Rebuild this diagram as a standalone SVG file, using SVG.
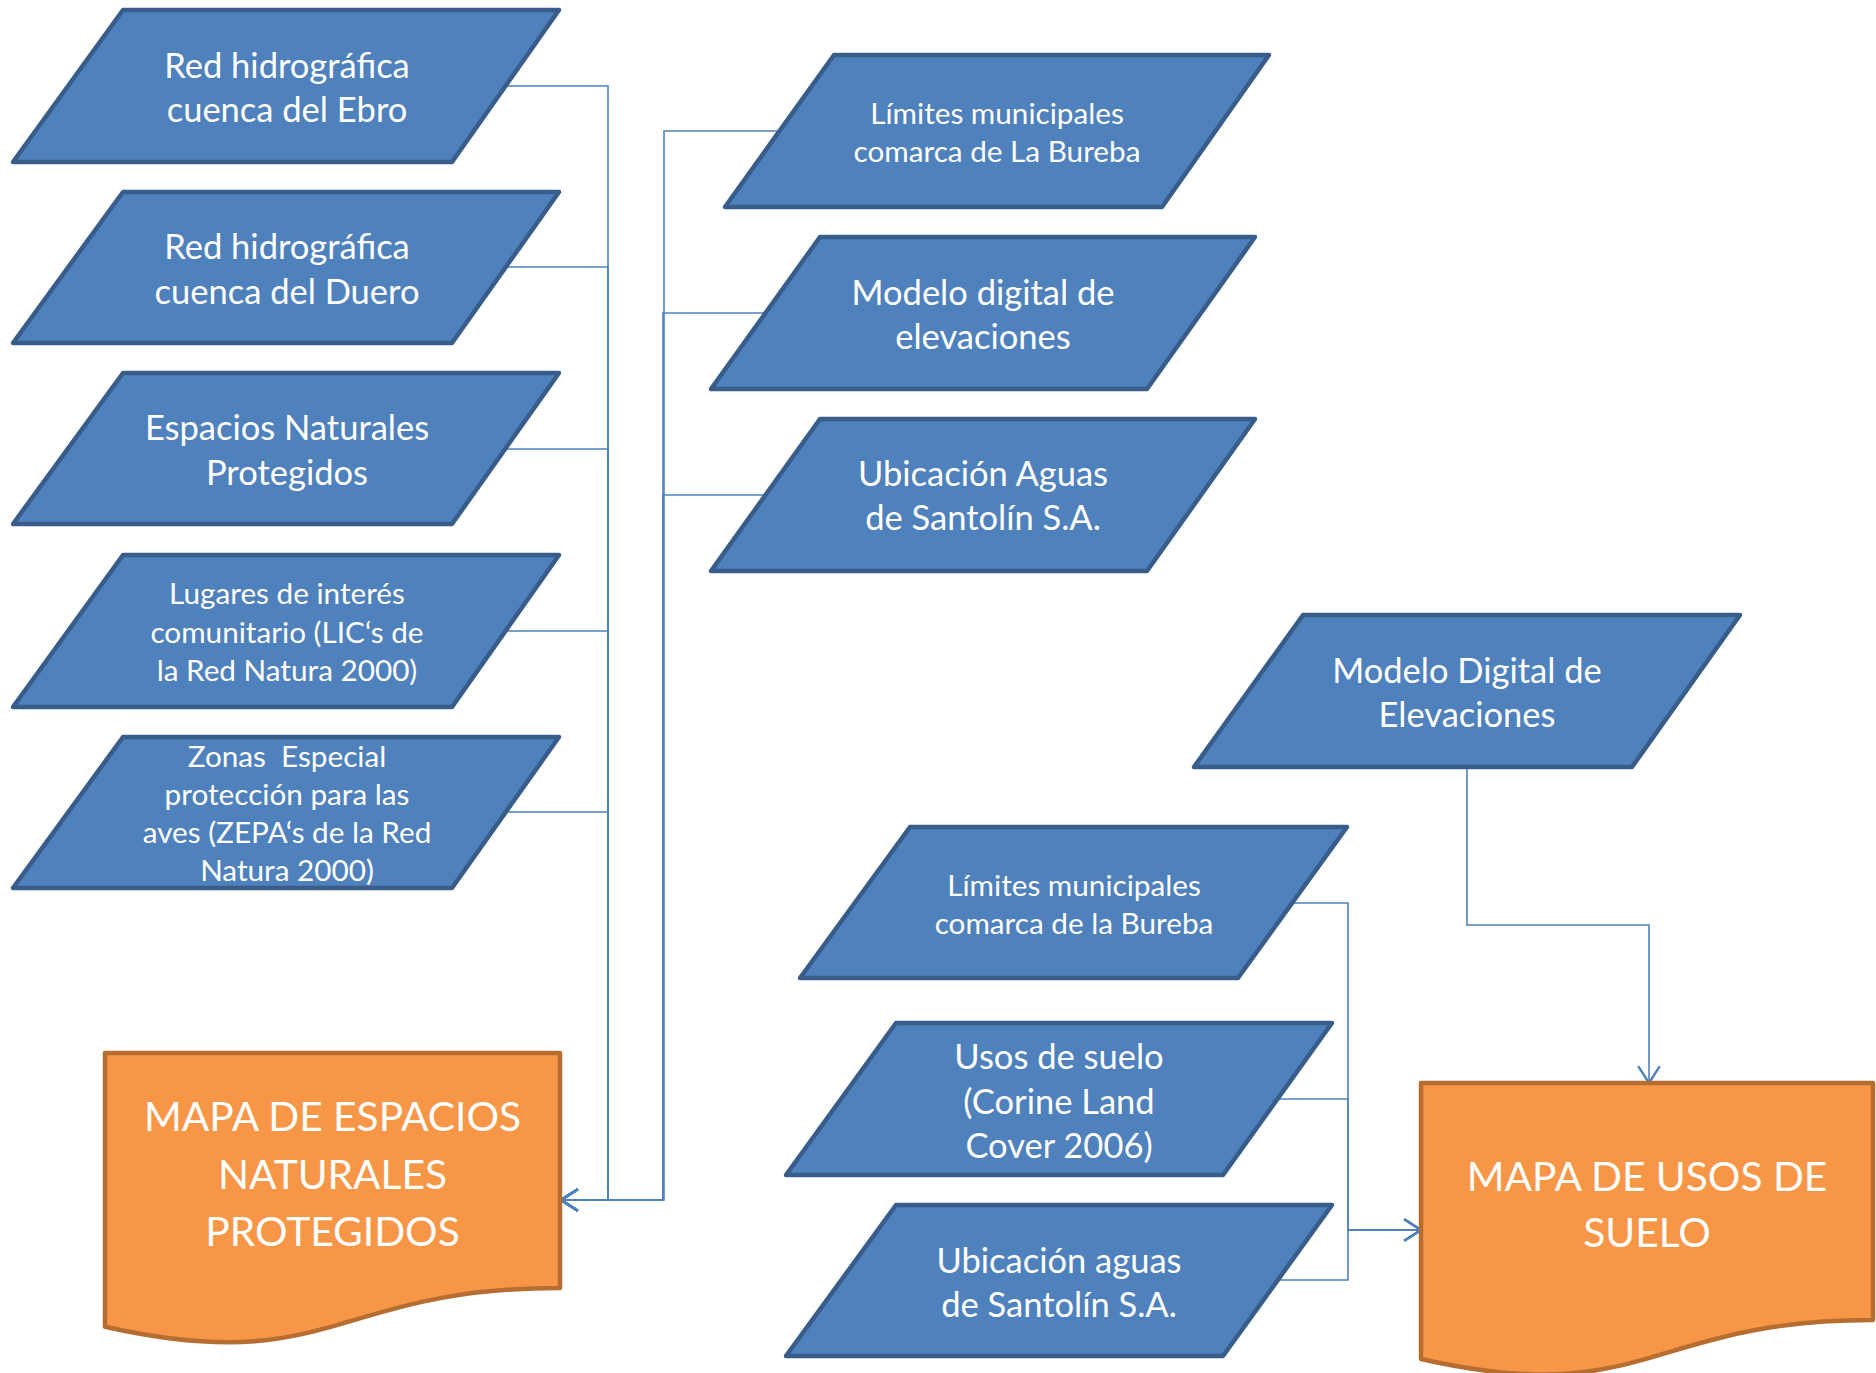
<svg xmlns="http://www.w3.org/2000/svg" width="1876" height="1373" viewBox="0 0 1876 1373">
<defs>
<style>
.n{fill:#4F81BD;stroke:#385D8A;stroke-width:4.5;stroke-linejoin:round}
.d{fill:#F79646;stroke:#B66D31;stroke-width:4.5;stroke-linejoin:round}
.t{font-family:Lato,"Open Sans",sans-serif;fill:#FFFFFF;text-anchor:middle}
.L{font-size:34.5px}
.S{font-size:29.7px}
.X{font-size:40.7px}
.c{fill:none;stroke:#4F81BD;stroke-width:1.6}
</style>
<marker id="ar" markerUnits="userSpaceOnUse" markerWidth="24" markerHeight="24" refX="16" refY="10" orient="auto" viewBox="0 0 20 20">
<path d="M2,1 L16,10 L2,19" fill="none" stroke="#4F81BD" stroke-width="2"/>
</marker>
</defs>
<rect width="1876" height="1373" fill="#FFFFFF"/>
<g id="connectors">
<path class="c" d="M505.5,86 H608 V1200 H561" marker-end="url(#ar)"/>
<path class="c" d="M505.5,267 H608 V1200 H561" marker-end="url(#ar)"/>
<path class="c" d="M505.5,449 H608 V1200 H561" marker-end="url(#ar)"/>
<path class="c" d="M505.5,631 H608 V1200 H561" marker-end="url(#ar)"/>
<path class="c" d="M505.5,812 H608 V1200 H561" marker-end="url(#ar)"/>
<path class="c" d="M779.5,131 H664 V1200 H561" marker-end="url(#ar)"/>
<path class="c" d="M765.5,313 H663 V1200 H561" marker-end="url(#ar)"/>
<path class="c" d="M765.5,495 H663 V1200 H561" marker-end="url(#ar)"/>
<path class="c" d="M1467,767 V925 H1649 V1083" marker-end="url(#ar)"/>
<path class="c" d="M1292,903 H1348 V1230 H1421" marker-end="url(#ar)"/>
<path class="c" d="M1277.5,1099 H1348 V1230 H1421" marker-end="url(#ar)"/>
<path class="c" d="M1277.5,1280 H1348 V1230 H1421" marker-end="url(#ar)"/>
</g>
<g id="n1"><polygon class="n" points="123,10 559,10 452,162 13,162"/>
<text class="t L" x="287" y="77.5">Red hidrográfica</text><text class="t L" x="287" y="121.5">cuenca del Ebro</text></g>
<g id="n2"><polygon class="n" points="123,192 559,192 452,343 13,343"/>
<text class="t L" x="287" y="258.5">Red hidrográfica</text><text class="t L" x="287" y="303.5">cuenca del Duero</text></g>
<g id="n3"><polygon class="n" points="123,373 559,373 452,524 13,524"/>
<text class="t L" x="287" y="439.5">Espacios Naturales</text><text class="t L" x="287" y="484.5">Protegidos</text></g>
<g id="n4"><polygon class="n" points="123,555 559,555 452,707 13,707"/>
<text class="t S" x="287" y="603.5">Lugares de interés</text><text class="t S" x="287" y="642.5">comunitario (LIC‘s de</text><text class="t S" x="287" y="680.5">la Red Natura 2000)</text></g>
<g id="n5"><polygon class="n" points="123,737 559,737 452,888 13,888"/>
<text class="t S" x="287" y="766.5" xml:space="preserve">Zonas  Especial</text><text class="t S" x="287" y="804.5">protección para las</text><text class="t S" x="287" y="842.5">aves (ZEPA‘s de la Red</text><text class="t S" x="287" y="880.5">Natura 2000)</text></g>
<g id="m1"><polygon class="n" points="834,55 1269,55 1162,207 725,207"/>
<text class="t S" x="997" y="123.5">Límites municipales</text><text class="t S" x="997" y="161.5">comarca de La Bureba</text></g>
<g id="m2"><polygon class="n" points="820,237 1255,237 1147,389 711,389"/>
<text class="t L" x="983" y="304.5">Modelo digital de</text><text class="t L" x="983" y="348.5">elevaciones</text></g>
<g id="m3"><polygon class="n" points="820,419 1255,419 1147,571 711,571"/>
<text class="t L" x="983" y="485.5">Ubicación Aguas</text><text class="t L" x="983" y="529.5">de Santolín S.A.</text></g>
<g id="r1"><polygon class="n" points="1303,615 1740,615 1632,767 1194,767"/>
<text class="t L" x="1467" y="682.5">Modelo Digital de</text><text class="t L" x="1467" y="726.5">Elevaciones</text></g>
<g id="r2"><polygon class="n" points="910,827 1347,827 1238,978 800,978"/>
<text class="t S" x="1074" y="895.5">Límites municipales</text><text class="t S" x="1074" y="933.5">comarca de la Bureba</text></g>
<g id="r3"><polygon class="n" points="896,1023 1332,1023 1223,1175 786,1175"/>
<text class="t L" x="1059" y="1068.5">Usos de suelo</text><text class="t L" x="1059" y="1113.5">(Corine Land</text><text class="t L" x="1059" y="1157.5">Cover 2006)</text></g>
<g id="r4"><polygon class="n" points="896,1205 1332,1205 1223,1356 786,1356"/>
<text class="t L" x="1059" y="1272.5">Ubicación aguas</text><text class="t L" x="1059" y="1316.5">de Santolín S.A.</text></g>
<g id="doc1"><path class="d" d="M105,1053 H560 V1288 C332.5,1288 332.5,1377.5 105,1326.7 Z"/>
<text class="t X" x="332.5" y="1130.5">MAPA DE ESPACIOS</text><text class="t X" x="332.5" y="1188.5">NATURALES</text><text class="t X" x="332.5" y="1245.5">PROTEGIDOS</text></g>
<g id="doc2"><path class="d" d="M1421,1083 H1873 V1320 C1647,1320 1647,1410 1421,1359 Z"/>
<text class="t X" x="1647" y="1190.5">MAPA DE USOS DE</text><text class="t X" x="1647" y="1246.5">SUELO</text></g>
</svg>
